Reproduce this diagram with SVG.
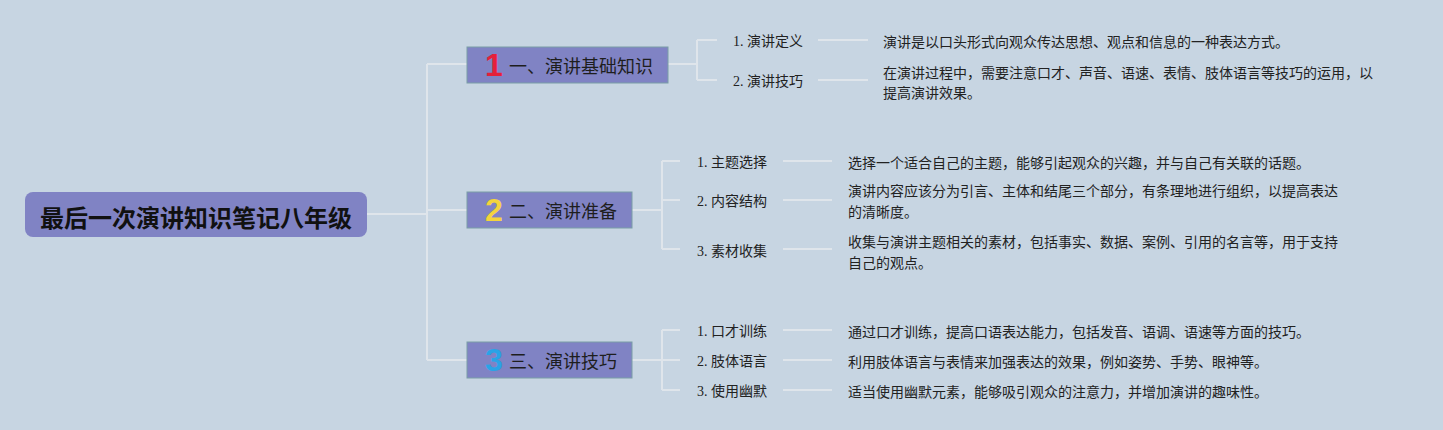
<svg xmlns="http://www.w3.org/2000/svg" width="1443" height="430" viewBox="0 0 1443 430">
<style>
.bg{fill:#c7d5e2}
.root{fill:#8083c4}
.sec{fill:#8083c4;stroke:#7a9ea6;stroke-width:1}
.rt{font-family:"Noto Sans CJK SC",sans-serif;font-size:24px;font-weight:bold;fill:#111;dominant-baseline:central;text-anchor:middle}
.st{font-family:"Noto Sans CJK SC",sans-serif;font-size:18px;fill:#1e1e1e;dominant-baseline:central}
.num{font-family:"Liberation Sans","Noto Sans",sans-serif;font-size:32px;font-weight:bold;dominant-baseline:central;text-anchor:middle}
.lb{font-family:"Liberation Serif","Noto Sans CJK SC",serif;font-size:14px;fill:#222;dominant-baseline:central}
.ds{font-family:"Noto Sans CJK SC",sans-serif;font-size:14px;fill:#222;dominant-baseline:central}
.ln{fill:none;stroke:#dfe5eb;stroke-width:2}
</style>
<rect class="bg" x="0" y="0" width="1443" height="430"/>
<g id="connectors">
<path class="ln" d="M367 214H427M427 64V360M427 64H467M427 210H467M427 360H467"/>
<path class="ln" d="M668 64H697M697 40V80M697 40H717M697 80H717M818 40H868M818 80H868"/>
<path class="ln" d="M632 210H662M662 161V249M662 161H680M662 200H680M662 249H680M783 161H832M783 200H832M783 249H832"/>
<path class="ln" d="M632 360H662M662 330V390M662 330H680M662 360H680M662 390H680M783 330H832M783 360H832M783 390H832"/>
</g>
<g id="root">
<rect class="root" x="25" y="192" width="342" height="45" rx="8"/>
<text class="rt" x="196" y="216">最后一次演讲知识笔记八年级</text>
</g>
<g id="sec1">
<rect class="sec" x="467" y="47" width="201" height="36"/>
<text class="num" x="494" y="65" fill="#e5203a">1</text>
<text class="st" x="509" y="65">一、演讲基础知识</text>
</g>
<g id="sec2">
<rect class="sec" x="467" y="192" width="165" height="36"/>
<text class="num" x="494" y="210" fill="#f4d43c">2</text>
<text class="st" x="509" y="210">二、演讲准备</text>
</g>
<g id="sec3">
<rect class="sec" x="467" y="342" width="165" height="36"/>
<text class="num" x="494" y="360" fill="#2aa3e6">3</text>
<text class="st" x="509" y="360">三、演讲技巧</text>
</g>
<g id="leaf1-1">
<text class="lb" x="733" y="41">1. 演讲定义</text>
<text class="ds" x="883" y="41">演讲是以口头形式向观众传达思想、观点和信息的一种表达方式。</text>
</g>
<g id="leaf1-2">
<text class="lb" x="733" y="81">2. 演讲技巧</text>
<text class="ds" x="883" y="72">在演讲过程中，需要注意口才、声音、语速、表情、肢体语言等技巧的运用，以</text>
<text class="ds" x="883" y="92">提高演讲效果。</text>
</g>
<g id="leaf2-1">
<text class="lb" x="697" y="162">1. 主题选择</text>
<text class="ds" x="848" y="162">选择一个适合自己的主题，能够引起观众的兴趣，并与自己有关联的话题。</text>
</g>
<g id="leaf2-2">
<text class="lb" x="697" y="201">2. 内容结构</text>
<text class="ds" x="848" y="190">演讲内容应该分为引言、主体和结尾三个部分，有条理地进行组织，以提高表达</text>
<text class="ds" x="848" y="211">的清晰度。</text>
</g>
<g id="leaf2-3">
<text class="lb" x="697" y="251">3. 素材收集</text>
<text class="ds" x="848" y="241">收集与演讲主题相关的素材，包括事实、数据、案例、引用的名言等，用于支持</text>
<text class="ds" x="848" y="262">自己的观点。</text>
</g>
<g id="leaf3-1">
<text class="lb" x="697" y="331">1. 口才训练</text>
<text class="ds" x="848" y="331">通过口才训练，提高口语表达能力，包括发音、语调、语速等方面的技巧。</text>
</g>
<g id="leaf3-2">
<text class="lb" x="697" y="361">2. 肢体语言</text>
<text class="ds" x="848" y="361">利用肢体语言与表情来加强表达的效果，例如姿势、手势、眼神等。</text>
</g>
<g id="leaf3-3">
<text class="lb" x="697" y="391">3. 使用幽默</text>
<text class="ds" x="848" y="391">适当使用幽默元素，能够吸引观众的注意力，并增加演讲的趣味性。</text>
</g>
</svg>
